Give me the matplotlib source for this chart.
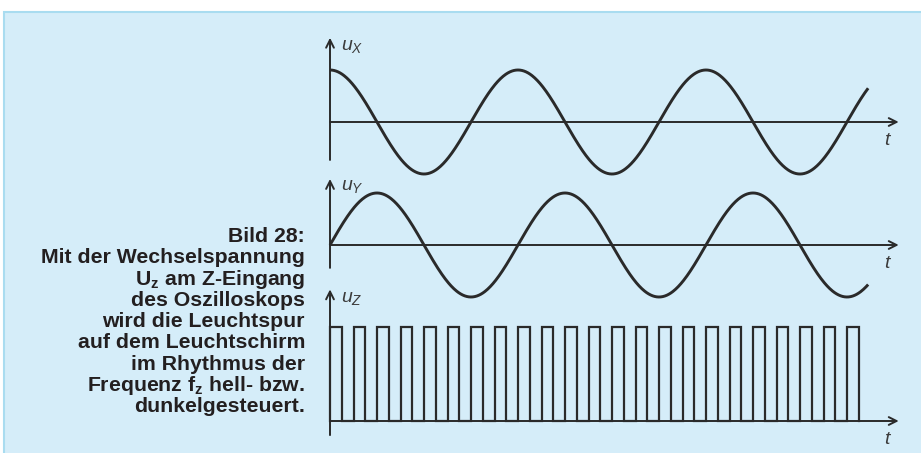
import numpy as np
import matplotlib
matplotlib.use("Agg")
import matplotlib.pyplot as plt
from matplotlib.patches import Rectangle

plt.rcParams['font.family'] = ['Liberation Sans', 'DejaVu Sans']
plt.rcParams['mathtext.fontset'] = 'custom'
plt.rcParams['mathtext.it'] = 'Liberation Sans:italic'
plt.rcParams['mathtext.rm'] = 'Liberation Sans'
plt.rcParams['mathtext.bf'] = 'Liberation Sans:bold'

# ---------------- data ----------------
# time measured in units of one Z-period; sine period = 8 Z-periods
sine_period = 8.0
sine_amplitude = 1.0
t_end_sine = 22.9
phase_x = 0.0            # u_X starts at its maximum (cosine)
phase_y = -0.25          # u_Y starts at zero going up (sine), in periods
square_period = 1.0
square_high_fraction = 0.5
n_pulses = 23
square_high = 1.0
t_axis_end = 24.2

panel_labels = [r'$u_X$', r'$u_Y$', r'$u_Z$']
time_label = r'$t$'
caption_lines = [
    'Bild 28:',
    'Mit der Wechselspannung',
    r'U$_\mathbf{z}$ am Z-Eingang',
    'des Oszilloskops',
    'wird die Leuchtspur',
    'auf dem Leuchtschirm',
    'im Rhythmus der',
    r'Frequenz f$_\mathbf{z}$ hell- bzw.',
    'dunkelgesteuert.',
]

# ---------------- layout ----------------
W, H = 921, 453
fig = plt.figure(figsize=(W / 100, H / 100), dpi=100)
fig.patch.set_facecolor('white')
bg = '#d5edf9'
fig.add_artist(Rectangle((4 / W, -0.1), 1.2, (H - 12) / H + 0.1,
                         transform=fig.transFigure, facecolor=bg,
                         edgecolor='#a9dcf0', lw=1.5, zorder=0))

ink = '#2a2a2a'
label_col = '#3c3c3c'
X0, SX = 330, 23.5   # pixel of t=0, pixels per time unit


def make_ax(y0, sy):
    ax = fig.add_axes([0, 0, 1, 1])
    ax.set_xlim(-X0 / SX, (W - X0) / SX)
    ax.set_ylim((y0 - H) / sy, y0 / sy)
    ax.axis('off')
    ax.patch.set_visible(False)
    return ax


def draw_axes(ax, ybot, ytop, lab, lab_y, t_y):
    arrow = dict(arrowstyle='->', lw=1.4, color=ink, mutation_scale=14,
                 shrinkA=0, shrinkB=0)
    ax.annotate('', xy=(0, ytop), xytext=(0, ybot), arrowprops=arrow)
    ax.annotate('', xy=(t_axis_end, 0), xytext=(0, 0), arrowprops=arrow)
    ax.text(0.45, lab_y, lab, fontsize=14, color=label_col,
            ha='left', va='center')
    ax.text(t_axis_end - 0.45, t_y, time_label, fontsize=14,
            color=label_col, ha='center', va='center')


# panel 1: u_X
ax1 = make_ax(122, 52)
t = np.linspace(0, t_end_sine, 800)
ux = sine_amplitude * np.cos(2 * np.pi * (t / sine_period + phase_x))
ax1.plot(t, ux, color=ink, lw=2.1, solid_capstyle='butt')
draw_axes(ax1, -0.73, 1.62, panel_labels[0], 1.46, -0.36)

# panel 2: u_Y
ax2 = make_ax(245, 52)
uy = sine_amplitude * np.cos(2 * np.pi * (t / sine_period + phase_y))
ax2.plot(t, uy, color=ink, lw=2.1, solid_capstyle='butt')
draw_axes(ax2, -0.44, 1.27, panel_labels[1], 1.13, -0.36)

# panel 3: u_Z square wave
ax3 = make_ax(421, 94)
starts = np.arange(n_pulses) * square_period
ends = starts + square_high_fraction * square_period
xs = np.repeat(np.column_stack([starts, ends]).ravel(), 2)
ys = np.tile([0, square_high, square_high, 0], n_pulses)
ax3.plot(xs, ys, color=ink, lw=1.6, solid_joinstyle='miter')
draw_axes(ax3, -0.15, 1.40, panel_labels[2], 1.30, -0.2)

# caption
for i, line in enumerate(caption_lines):
    fig.text(305 / W, 1 - (242 + i * 21.3) / H, line, fontsize=15.3,
             fontweight='bold', color='#231f20', ha='right',
             va='baseline')

fig.savefig('out.png', dpi=100, facecolor='white')
